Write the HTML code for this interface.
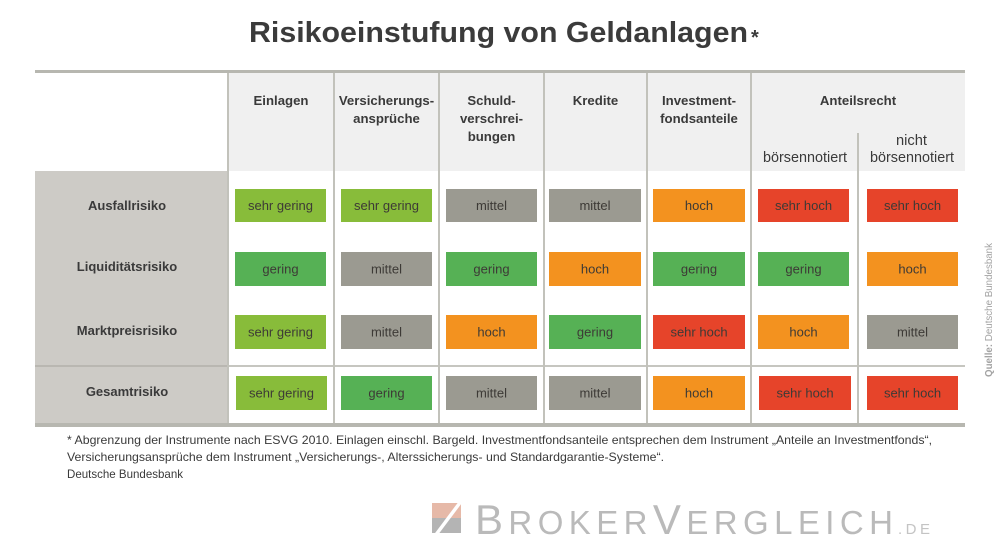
<!DOCTYPE html>
<html>
<head>
<meta charset="utf-8">
<style>
  html, body { margin: 0; padding: 0; background: #ffffff; }
  body { width: 1000px; height: 560px; overflow: hidden; }
  svg { display: block; }
  text { font-family: "Liberation Sans", Arial, sans-serif; }
</style>
</head>
<body>
<svg width="1000" height="560" viewBox="0 0 1000 560" xmlns="http://www.w3.org/2000/svg">
  <rect x="0" y="0" width="1000" height="560" fill="#ffffff"/>

  <!-- Title -->
  <text x="249" y="42" font-size="29" font-weight="bold" fill="#3b3b3b" textLength="499" lengthAdjust="spacingAndGlyphs">Risikoeinstufung von Geldanlagen</text>
  <text x="751" y="44" font-size="20" font-weight="bold" fill="#3b3b3b">*</text>

  <!-- Header background -->
  <rect x="229" y="73" width="736" height="98" fill="#f0f0f0"/>
  <!-- Label column background -->
  <rect x="35" y="171" width="193" height="253" fill="#cdcbc6"/>

  <!-- Top and bottom borders -->
  <rect x="35" y="70" width="930" height="3" fill="#b7b7b0"/>
  <rect x="35" y="423" width="930" height="4" fill="#b7b7b0"/>

  <!-- Separator above Gesamtrisiko -->
  <rect x="35" y="365" width="193" height="2" fill="#b9b7b1"/>
  <rect x="228" y="365" width="737" height="2" fill="#c6c6c0"/>

  <!-- Column lines -->
  <g fill="#c2c2bb">
    <rect x="227" y="73" width="2" height="350"/>
    <rect x="333" y="73" width="2" height="350"/>
    <rect x="438" y="73" width="2" height="350"/>
    <rect x="543" y="73" width="2" height="350"/>
    <rect x="646" y="73" width="2" height="350"/>
    <rect x="750" y="73" width="2" height="350"/>
    <rect x="857" y="133" width="2" height="290"/>
  </g>

  <!-- Header text -->
  <g font-size="13.2" font-weight="bold" fill="#3a3a3a" text-anchor="middle">
    <text x="281" y="105">Einlagen</text>
    <text x="386.5" y="105">Versicherungs-</text>
    <text x="386.5" y="123">ansprüche</text>
    <text x="491.5" y="105">Schuld-</text>
    <text x="491.5" y="123">verschrei-</text>
    <text x="491.5" y="141">bungen</text>
    <text x="595.5" y="105">Kredite</text>
    <text x="699" y="105">Investment-</text>
    <text x="699" y="123">fondsanteile</text>
    <text x="858" y="105">Anteilsrecht</text>
  </g>
  <g font-size="14.3" fill="#3a3a3a" text-anchor="middle">
    <text x="805" y="162" textLength="84" lengthAdjust="spacingAndGlyphs">börsennotiert</text>
    <text x="911.5" y="145" textLength="31" lengthAdjust="spacingAndGlyphs">nicht</text>
    <text x="912" y="162" textLength="84" lengthAdjust="spacingAndGlyphs">börsennotiert</text>
  </g>

  <!-- Row labels -->
  <g font-size="13" font-weight="bold" fill="#3a3a3a" text-anchor="middle">
    <text x="127" y="210">Ausfallrisiko</text>
    <text x="127" y="271">Liquiditätsrisiko</text>
    <text x="127" y="335">Marktpreisrisiko</text>
    <text x="127" y="396">Gesamtrisiko</text>
  </g>

  <!-- Row 1: Ausfallrisiko -->
  <g>
    <rect x="235" y="189" width="91" height="33" fill="#88bc3a"/>
    <rect x="341" y="189" width="91" height="33" fill="#88bc3a"/>
    <rect x="446" y="189" width="91" height="33" fill="#9b9a91"/>
    <rect x="549" y="189" width="92" height="33" fill="#9b9a91"/>
    <rect x="653" y="189" width="92" height="33" fill="#f3921f"/>
    <rect x="758" y="189" width="91" height="33" fill="#e6442a"/>
    <rect x="867" y="189" width="91" height="33" fill="#e6442a"/>
  </g>
  <!-- Row 2: Liquiditätsrisiko -->
  <g>
    <rect x="235" y="252" width="91" height="34" fill="#56b155"/>
    <rect x="341" y="252" width="91" height="34" fill="#9b9a91"/>
    <rect x="446" y="252" width="91" height="34" fill="#56b155"/>
    <rect x="549" y="252" width="92" height="34" fill="#f3921f"/>
    <rect x="653" y="252" width="92" height="34" fill="#56b155"/>
    <rect x="758" y="252" width="91" height="34" fill="#56b155"/>
    <rect x="867" y="252" width="91" height="34" fill="#f3921f"/>
  </g>
  <!-- Row 3: Marktpreisrisiko -->
  <g>
    <rect x="235" y="315" width="91" height="34" fill="#88bc3a"/>
    <rect x="341" y="315" width="91" height="34" fill="#9b9a91"/>
    <rect x="446" y="315" width="91" height="34" fill="#f3921f"/>
    <rect x="549" y="315" width="92" height="34" fill="#56b155"/>
    <rect x="653" y="315" width="92" height="34" fill="#e6442a"/>
    <rect x="758" y="315" width="91" height="34" fill="#f3921f"/>
    <rect x="867" y="315" width="91" height="34" fill="#9b9a91"/>
  </g>
  <!-- Row 4: Gesamtrisiko -->
  <g>
    <rect x="236" y="376" width="91" height="34" fill="#88bc3a"/>
    <rect x="341" y="376" width="91" height="34" fill="#56b155"/>
    <rect x="446" y="376" width="91" height="34" fill="#9b9a91"/>
    <rect x="549" y="376" width="92" height="34" fill="#9b9a91"/>
    <rect x="653" y="376" width="92" height="34" fill="#f3921f"/>
    <rect x="759" y="376" width="92" height="34" fill="#e6442a"/>
    <rect x="867" y="376" width="91" height="34" fill="#e6442a"/>
  </g>

  <!-- Cell text -->
  <g font-size="13" fill="#3d3a36" text-anchor="middle">
    <text x="280.5" y="210">sehr gering</text>
    <text x="386.5" y="210">sehr gering</text>
    <text x="491.5" y="210">mittel</text>
    <text x="595" y="210">mittel</text>
    <text x="699" y="210">hoch</text>
    <text x="803.5" y="210">sehr hoch</text>
    <text x="912.5" y="210">sehr hoch</text>

    <text x="280.5" y="273.5">gering</text>
    <text x="386.5" y="273.5">mittel</text>
    <text x="491.5" y="273.5">gering</text>
    <text x="595" y="273.5">hoch</text>
    <text x="699" y="273.5">gering</text>
    <text x="803.5" y="273.5">gering</text>
    <text x="912.5" y="273.5">hoch</text>

    <text x="280.5" y="336.5">sehr gering</text>
    <text x="386.5" y="336.5">mittel</text>
    <text x="491.5" y="336.5">hoch</text>
    <text x="595" y="336.5">gering</text>
    <text x="699" y="336.5">sehr hoch</text>
    <text x="803.5" y="336.5">hoch</text>
    <text x="912.5" y="336.5">mittel</text>

    <text x="281.5" y="397.5">sehr gering</text>
    <text x="386.5" y="397.5">gering</text>
    <text x="491.5" y="397.5">mittel</text>
    <text x="595" y="397.5">mittel</text>
    <text x="699" y="397.5">hoch</text>
    <text x="805" y="397.5">sehr hoch</text>
    <text x="912.5" y="397.5">sehr hoch</text>
  </g>

  <!-- Source (rotated) -->
  <text transform="translate(992,377) rotate(-90)" font-size="10.5" fill="#a3a3a3" textLength="134" lengthAdjust="spacingAndGlyphs"><tspan font-weight="bold">Quelle:</tspan> Deutsche Bundesbank</text>

  <!-- Footnote -->
  <g font-size="12" fill="#3a3a3a">
    <text x="67" y="444" textLength="865" lengthAdjust="spacingAndGlyphs">* Abgrenzung der Instrumente nach ESVG 2010. Einlagen einschl. Bargeld. Investmentfondsanteile entsprechen dem Instrument „Anteile an Investmentfonds“,</text>
    <text x="67" y="461" textLength="597" lengthAdjust="spacingAndGlyphs">Versicherungsansprüche dem Instrument „Versicherungs-, Alterssicherungs- und Standardgarantie-Systeme“.</text>
    <text x="67" y="478" textLength="116" lengthAdjust="spacingAndGlyphs">Deutsche Bundesbank</text>
  </g>

  <!-- Logo icon -->
  <rect x="432" y="503" width="29" height="15" fill="#e6b9a8"/>
  <rect x="432" y="518" width="29" height="15" fill="#b4b4b4"/>
  <line x1="435" y1="536" x2="462" y2="500" stroke="#ffffff" stroke-width="3.5"/>

  <!-- Logo text -->
  <text x="475" y="534" fill="#bababa" textLength="418" lengthAdjust="spacing"><tspan font-size="42">B</tspan><tspan font-size="33">ROKER</tspan><tspan font-size="42">V</tspan><tspan font-size="33">ERGLEICH</tspan></text>
  <text x="898" y="534" font-size="15" fill="#c4c4c4" textLength="32" lengthAdjust="spacing">.DE</text>
</svg>
</body>
</html>
